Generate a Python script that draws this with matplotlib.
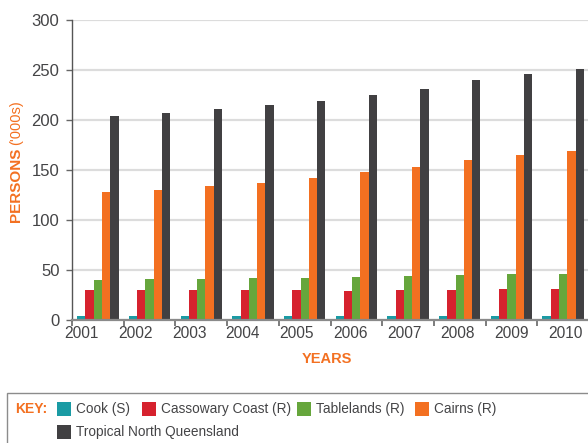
import numpy as np
import matplotlib
matplotlib.use("Agg")
import matplotlib.pyplot as plt
from matplotlib.patches import Rectangle

plt.rcParams['font.family'] = ['Liberation Sans', 'DejaVu Sans']

# data (persons, '000s)
years = ['2001', '2002', '2003', '2004', '2005', '2006', '2007', '2008', '2009', '2010']
cook = [4, 4, 4, 4, 4, 4, 4, 4, 4, 4]
cassowary = [30, 30, 30, 30, 30, 29, 30, 30, 31, 31]
tablelands = [40, 41, 41, 42, 42, 43, 44, 45, 46, 46]
cairns = [128, 130, 134, 137, 142, 147.5, 152.5, 159.5, 164.5, 168.5]
tnq = [203.7, 206.7, 210.7, 214.7, 218.7, 224.7, 230.8, 239.8, 245.8, 250.8]

series = [cook, cassowary, tablelands, cairns, tnq]
names = ['Cook (S)', 'Cassowary Coast (R)', 'Tablelands (R)', 'Cairns (R)',
         'Tropical North Queensland']
colors = ['#1a9ba4', '#d6222e', '#66a63c', '#f37021', '#414042']
orange = '#f37021'
text_col = '#444446'

W, H = 588, 443
fig = plt.figure(figsize=(W / 100, H / 100), dpi=100)

def fx(px):
    return px / W

def fy(py):
    return (H - py) / H

# axes spans px 72..589 horizontally, 20..319.5 vertically
ax = fig.add_axes([fx(72), fy(319.5), fx(589 - 72), (319.5 - 20) / H])

x = np.arange(len(years))
bw = 0.16
for k, (vals, c) in enumerate(zip(series, colors)):
    ax.bar(x + 0.5 + (k - 2) * bw, vals, width=bw, color=c, zorder=3)

ax.set_xlim(0, len(years))
ax.set_ylim(0, 300)
ax.set_yticks(np.arange(0, 301, 50))
ax.yaxis.grid(True, color='#dcdcdc', lw=1.6, zorder=0)
ax.set_axisbelow(True)

# tick marks at group boundaries, labels slightly offset
ax.set_xticks(x)
ax.set_xticklabels([])
ax.set_xticks(0.19 + 1.039 * x, minor=True)
ax.set_xticklabels(years, minor=True)
ax.tick_params(axis='x', which='major', length=4, width=1.2, color='#666666')
ax.tick_params(axis='x', which='minor', length=0, pad=5, labelsize=11.2,
               labelcolor=text_col)
ax.tick_params(axis='y', length=4, width=1, color='#666666', labelsize=12,
               labelcolor=text_col, pad=5)

for s in ['top', 'right']:
    ax.spines[s].set_visible(False)
ax.spines['left'].set_color('#555555')
ax.spines['left'].set_linewidth(1.0)
ax.spines['bottom'].set_color('#8a8a8a')
ax.spines['bottom'].set_linewidth(1.6)
ax.spines['bottom'].set_zorder(4)

# axis titles
fig.text(fx(327), fy(359), 'YEARS', color=orange, fontsize=10.5,
         fontweight='bold', ha='center', va='center')
fig.text(fx(16), fy(222), 'PERSONS', color=orange, fontsize=11,
         fontweight='bold', rotation=90, ha='center', va='bottom')
fig.text(fx(16), fy(145), "('000s)", color=orange, fontsize=10.5,
         rotation=90, ha='center', va='bottom')

# key box
fig.add_artist(Rectangle((fx(7), fy(460)), fx(600) - fx(7), fy(393) - fy(460),
                         transform=fig.transFigure, fill=False,
                         edgecolor='#8c8c8c', lw=1))
fig.text(fx(15), fy(409), 'KEY:', color=orange, fontsize=10,
         fontweight='bold', ha='left', va='center')

key_pos = [(57, 408.5), (142, 408.5), (297, 408.5), (415, 408.5), (57, 432)]
for (px, py), name, c in zip(key_pos, names, colors):
    fig.add_artist(Rectangle((fx(px), fy(py + 7)), fx(14), 14 / H,
                             transform=fig.transFigure, facecolor=c,
                             edgecolor='none'))
    fig.text(fx(px + 19), fy(py), name, color=text_col, fontsize=9.8,
             ha='left', va='center')

fig.savefig('out.png', dpi=100)
